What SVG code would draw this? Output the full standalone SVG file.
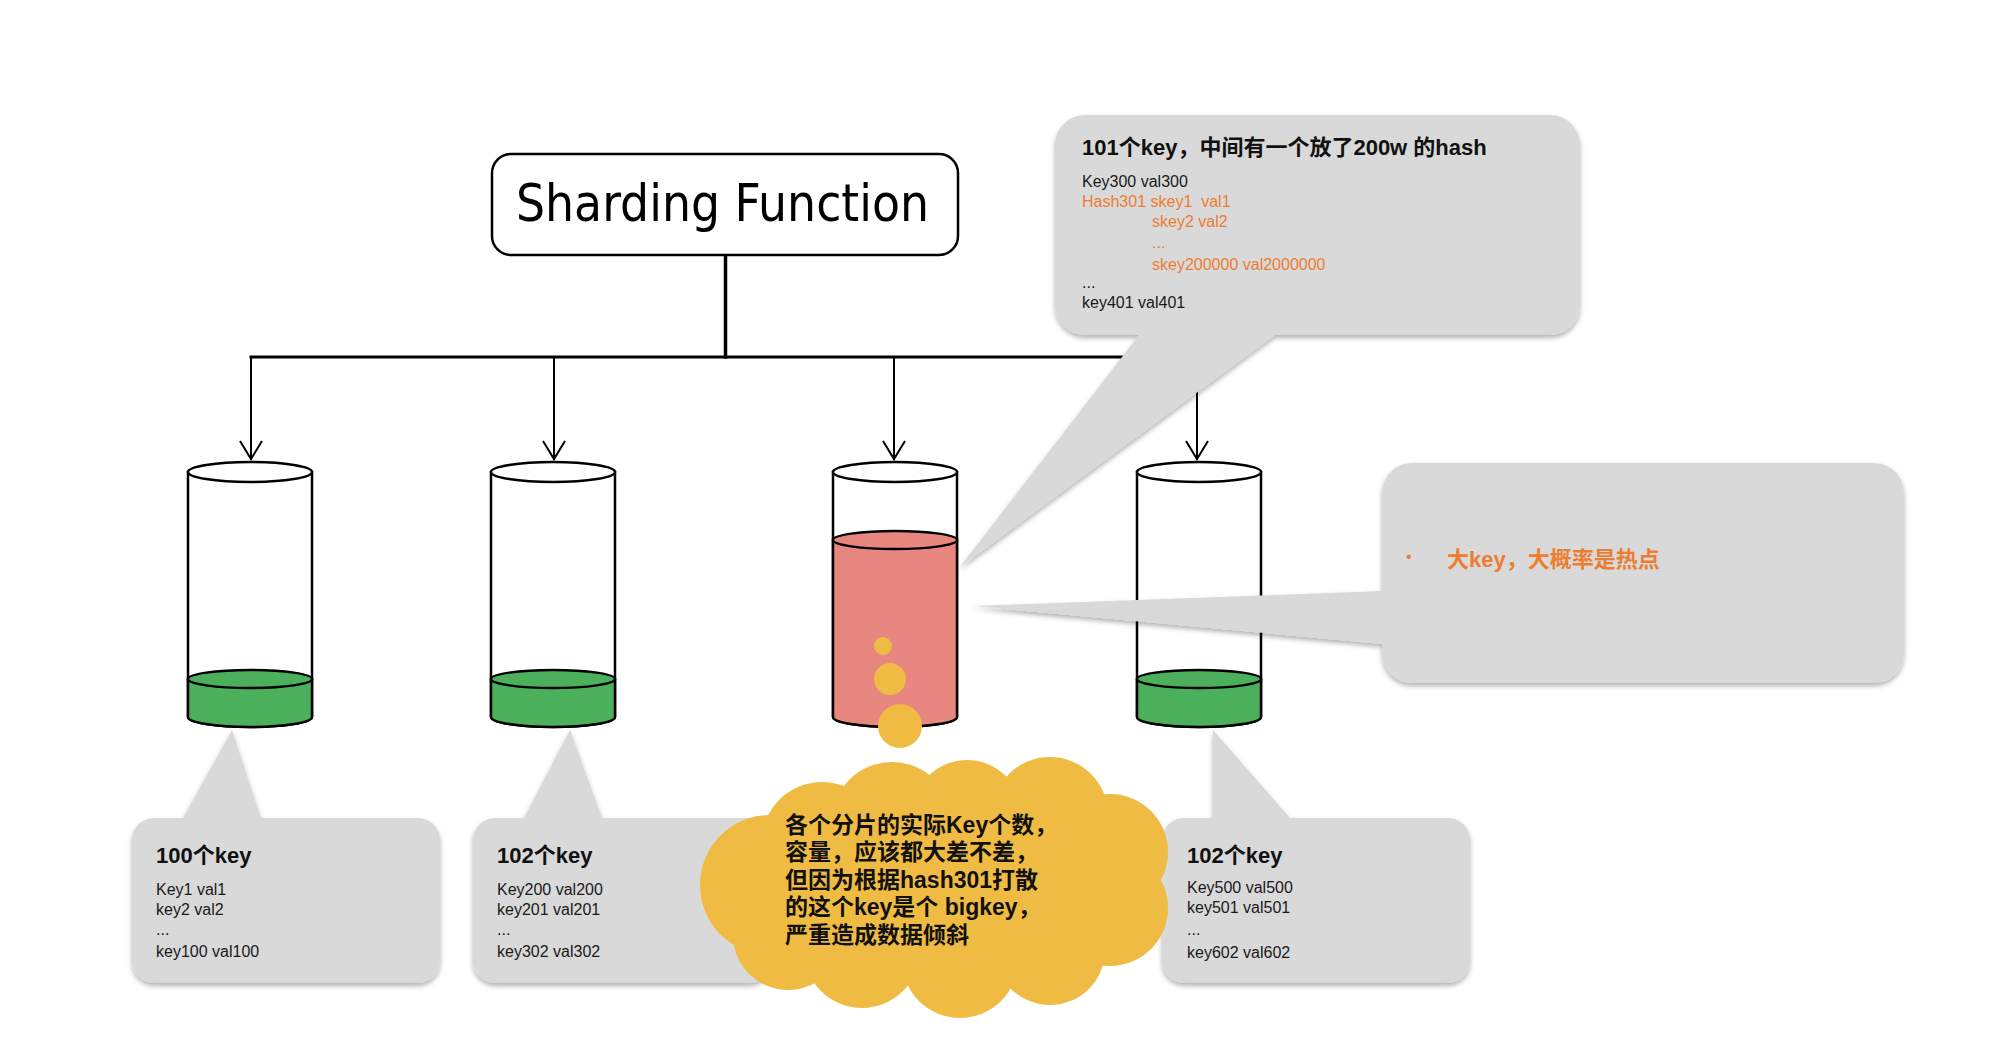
<svg xmlns="http://www.w3.org/2000/svg" width="2000" height="1047" viewBox="0 0 2000 1047">
<style>
.ln{fill:none;stroke:#000;stroke-linecap:square}
.cyl{stroke:#000;stroke-width:2.5}
.bub{fill:#d9d9d9;filter:url(#sh)}
.ttl{font-family:"Liberation Sans","Noto Sans CJK SC",sans-serif;font-weight:bold;font-size:22px;fill:#111}
.bd{font-family:"Liberation Sans","Noto Sans CJK SC",sans-serif;font-size:16px;fill:#1a1a1a}
.or{fill:#ed7d31}
.cl{font-family:"Liberation Sans","Noto Sans CJK SC",sans-serif;font-weight:bold;font-size:23px;fill:#111}
</style>
<defs>
<filter id="sh" x="-10%" y="-10%" width="120%" height="130%">
<feDropShadow dx="0" dy="3" stdDeviation="2.5" flood-color="#000" flood-opacity="0.3"/>
</filter>
<marker id="ar" viewBox="-20 -15 24 30" refX="0" refY="0" markerWidth="24" markerHeight="30" markerUnits="userSpaceOnUse" orient="auto">
<path d="M-18,-11 L0,0 L-18,11" fill="none" stroke="#000" stroke-width="2"/>
</marker>
</defs>
<rect width="2000" height="1047" fill="#fff"/>

<g id="connectors">
<path class="ln" d="M725.5,255 V357" stroke-width="3.5"/>
<path class="ln" d="M251,357 H1197" stroke-width="3"/>
<path class="ln" d="M251,357 V459" stroke-width="2" marker-end="url(#ar)"/>
<path class="ln" d="M554,357 V459" stroke-width="2" marker-end="url(#ar)"/>
<path class="ln" d="M894,357 V459" stroke-width="2" marker-end="url(#ar)"/>
<path class="ln" d="M1197,357 V459" stroke-width="2" marker-end="url(#ar)"/>
</g>

<g id="node-sharding">
<rect x="492" y="154" width="466" height="101" rx="19" fill="#fff" stroke="#000" stroke-width="2.5"/>
<text x="516" y="221" font-family="DejaVu Sans" font-stretch="condensed" font-size="52" textLength="413" lengthAdjust="spacingAndGlyphs" fill="#000">Sharding Function</text>
</g>

<g id="node-shard1">
<path class="cyl" fill="#fff" d="M188,472 V717 A62,10 0 0 0 312,717 V472 Z"/>
<path class="cyl" fill="#4caf5b" d="M188,679 V717 A62,10 0 0 0 312,717 V679 Z"/>
<ellipse class="cyl" cx="250" cy="679" rx="62" ry="9" fill="#4caf5b"/>
<ellipse class="cyl" cx="250" cy="472" rx="62" ry="10" fill="#fff"/>
</g>
<g id="node-shard2">
<path class="cyl" fill="#fff" d="M491,472 V717 A62,10 0 0 0 615,717 V472 Z"/>
<path class="cyl" fill="#4caf5b" d="M491,679 V717 A62,10 0 0 0 615,717 V679 Z"/>
<ellipse class="cyl" cx="553" cy="679" rx="62" ry="9" fill="#4caf5b"/>
<ellipse class="cyl" cx="553" cy="472" rx="62" ry="10" fill="#fff"/>
</g>
<g id="node-shard3">
<path class="cyl" fill="#fff" d="M833,472 V717 A62,10 0 0 0 957,717 V472 Z"/>
<path class="cyl" fill="#e8877f" d="M833,540 V717 A62,10 0 0 0 957,717 V540 Z"/>
<ellipse class="cyl" cx="895" cy="540" rx="62" ry="9" fill="#e8877f"/>
<ellipse class="cyl" cx="895" cy="472" rx="62" ry="10" fill="#fff"/>
</g>
<g id="node-shard4">
<path class="cyl" fill="#fff" d="M1137,472 V717 A62,10 0 0 0 1261,717 V472 Z"/>
<path class="cyl" fill="#4caf5b" d="M1137,679 V717 A62,10 0 0 0 1261,717 V679 Z"/>
<ellipse class="cyl" cx="1199" cy="679" rx="62" ry="9" fill="#4caf5b"/>
<ellipse class="cyl" cx="1199" cy="472" rx="62" ry="10" fill="#fff"/>
</g>

<g id="callout-top">
<path class="bub" d="M1085,115 H1550 A30,30 0 0 1 1580,145 V305 A30,30 0 0 1 1550,335 H1275 L960,567 L1139,335 H1085 A30,30 0 0 1 1055,305 V145 A30,30 0 0 1 1085,115 Z"/>
<text class="ttl" x="1082" y="155">101个key，中间有一个放了200w 的hash</text>
<text class="bd" x="1082" y="187">Key300 val300</text>
<text class="bd or" x="1082" y="207" xml:space="preserve">Hash301 skey1  val1</text>
<text class="bd or" x="1152" y="227">skey2 val2</text>
<text class="bd or" x="1152" y="248">...</text>
<text class="bd or" x="1152" y="270">skey200000 val2000000</text>
<text class="bd" x="1082" y="288">...</text>
<text class="bd" x="1082" y="308">key401 val401</text>
</g>

<g id="callout-right">
<path class="bub" d="M1412,463 H1874 A30,30 0 0 1 1904,493 V653 A30,30 0 0 1 1874,683 H1412 A30,30 0 0 1 1382,653 V644 L973,606 L1382,591 V493 A30,30 0 0 1 1412,463 Z"/>
<text class="bd or" x="1406" y="562" font-size="16">•</text>
<text class="ttl or" x="1447" y="567">大key，大概率是热点</text>
</g>

<g id="callout-b1">
<path class="bub" d="M154,818 H183 L232,730 L261,818 H418 A22,22 0 0 1 440,840 V961 A22,22 0 0 1 418,983 H154 A22,22 0 0 1 132,961 V840 A22,22 0 0 1 154,818 Z"/>
<text class="ttl" x="156" y="863">100个key</text>
<text class="bd" x="156" y="895">Key1 val1</text>
<text class="bd" x="156" y="915">key2 val2</text>
<text class="bd" x="156" y="935">...</text>
<text class="bd" x="156" y="957">key100 val100</text>
</g>

<g id="callout-b2">
<path class="bub" d="M495,818 H524 L570,730 L602,818 H750 A22,22 0 0 1 772,840 V961 A22,22 0 0 1 750,983 H495 A22,22 0 0 1 473,961 V840 A22,22 0 0 1 495,818 Z"/>
<text class="ttl" x="497" y="863">102个key</text>
<text class="bd" x="497" y="895">Key200 val200</text>
<text class="bd" x="497" y="915">key201 val201</text>
<text class="bd" x="497" y="935">...</text>
<text class="bd" x="497" y="957">key302 val302</text>
</g>

<g id="callout-b4">
<path class="bub" d="M1184,818 H1213 V730 L1290,818 H1448 A22,22 0 0 1 1470,840 V961 A22,22 0 0 1 1448,983 H1184 A22,22 0 0 1 1162,961 V840 A22,22 0 0 1 1184,818 Z"/>
<text class="ttl" x="1187" y="863">102个key</text>
<text class="bd" x="1187" y="893">Key500 val500</text>
<text class="bd" x="1187" y="913">key501 val501</text>
<text class="bd" x="1187" y="935">...</text>
<text class="bd" x="1187" y="958">key602 val602</text>
</g>

<g id="cloud" fill="#f0bb43">
<circle cx="883" cy="646" r="9"/>
<circle cx="890" cy="679" r="16"/>
<circle cx="900" cy="726" r="22"/>
<circle cx="770" cy="885" r="70"/>
<circle cx="822" cy="842" r="60"/>
<circle cx="892" cy="822" r="60"/>
<circle cx="967" cy="815" r="55"/>
<circle cx="1050" cy="815" r="58"/>
<circle cx="1110" cy="852" r="58"/>
<circle cx="1110" cy="908" r="58"/>
<circle cx="1050" cy="950" r="55"/>
<circle cx="960" cy="960" r="58"/>
<circle cx="862" cy="950" r="58"/>
<circle cx="788" cy="935" r="55"/>
<circle cx="940" cy="890" r="100"/>
<circle cx="1040" cy="885" r="75"/>
<text class="cl" x="785" y="833">各个分片的实际Key个数，</text>
<text class="cl" x="785" y="860">容量，应该都大差不差，</text>
<text class="cl" x="785" y="888">但因为根据hash301打散</text>
<text class="cl" x="785" y="915">的这个key是个 bigkey，</text>
<text class="cl" x="785" y="943">严重造成数据倾斜</text>
</g>
</svg>
